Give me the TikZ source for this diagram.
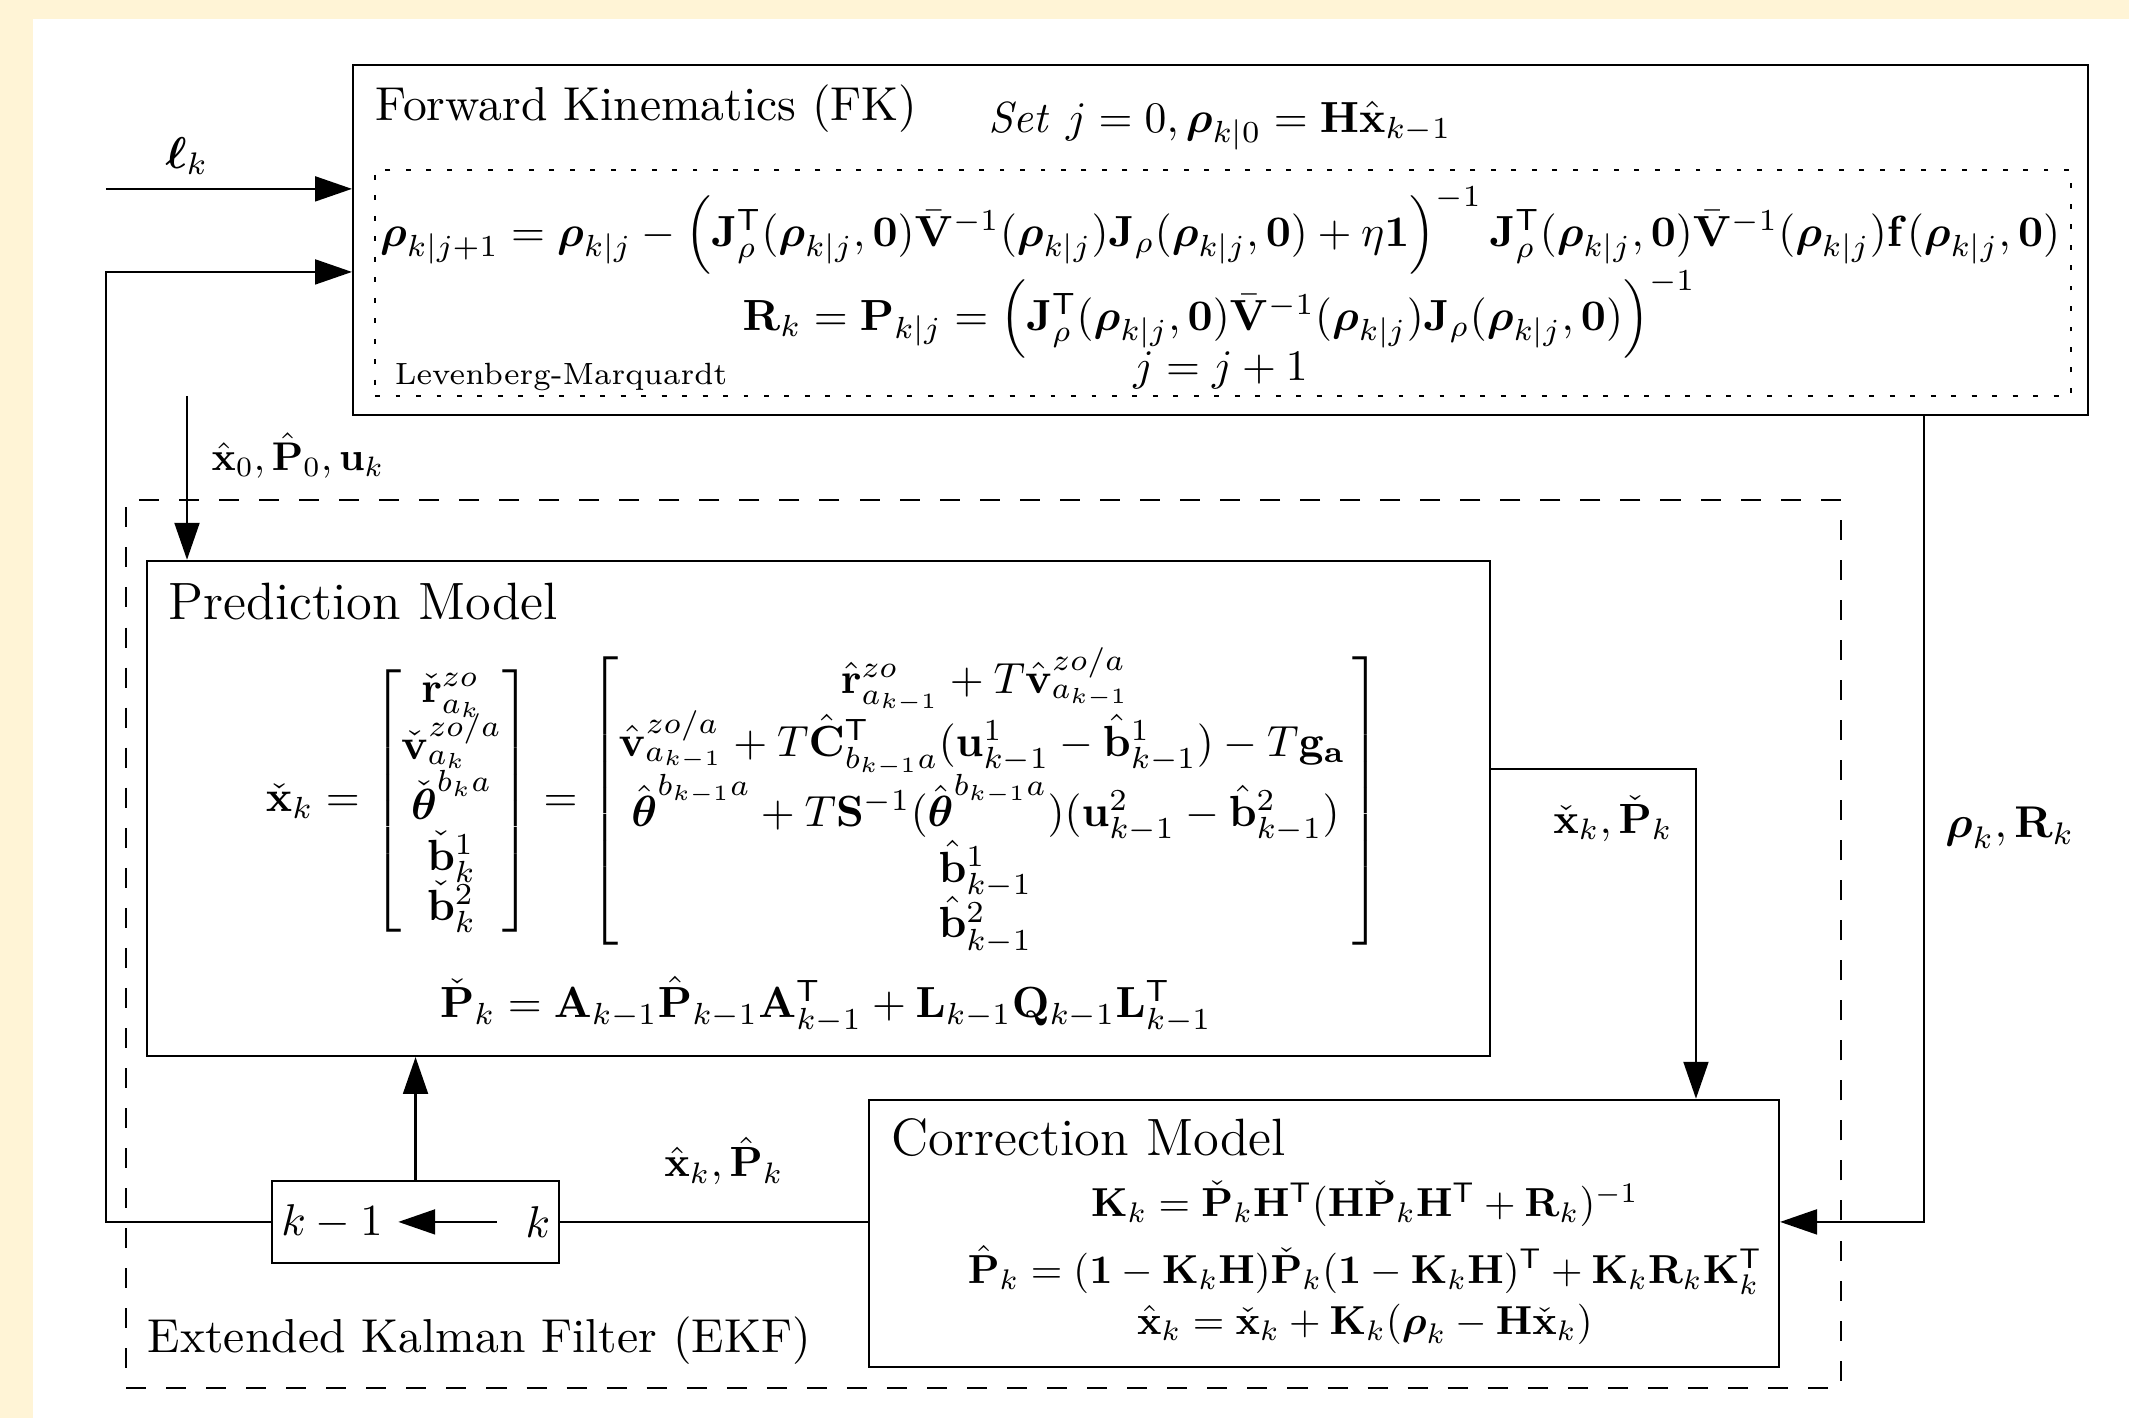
\documentclass[tikz,border=0pt]{standalone}
\usepackage{amsmath,amssymb}
\usepackage{graphicx}
\usetikzlibrary{arrows.meta}
\definecolor{cream}{RGB}{255,244,214}
\newcommand{\eqscale}[2]{\scalebox{#1}{$#2$}}

\begin{document}
\begin{tikzpicture}[
  block/.style={draw, line width=0.5pt, inner sep=0pt},
  arr/.style={-{Triangle[length=8.3pt,width=5.6pt]}, line width=0.5pt},
  ln/.style={line width=0.5pt},
  title/.style={anchor=west, inner sep=0pt, font=\fontsize{10.7}{13}\selectfont},
  bigtitle/.style={title, font=\fontsize{11.8}{14}\selectfont},
  lbl/.style={inner sep=1pt}
]
  % page
  \useasboundingbox (0,0) rectangle (16.815,11.199);
  \fill[white] (0,0) rectangle (16.815,11.199);
  \fill[cream] (0,11.049) rectangle (16.815,11.199);
  \fill[cream] (0,0) rectangle (0.261,11.199);

  % boxes
  \node[block, minimum width=13.703cm, minimum height=2.764cm] (fk) at (9.640,9.304) {};
  \node[block, dash pattern=on 1.1pt off 3.5pt, minimum width=13.395cm, minimum height=1.785cm] (lm) at (9.660,8.965) {};
  \node[block, dash pattern=on 4.5pt off 4.5pt, minimum width=13.545cm, minimum height=7.013cm] (ekf) at (7.768,3.744) {};
  \node[block, minimum width=10.607cm, minimum height=3.910cm] (pred) at (6.465,4.814) {};
  \node[block, minimum width=7.187cm, minimum height=2.109cm] (corr) at (10.457,1.458) {};
  \node[block, minimum width=2.267cm, minimum height=0.648cm] (delay) at (3.282,1.548) {};

  % forward kinematics
  \node[title] (fktitle) at (2.962,10.338) {Forward Kinematics (FK)};
  \node (fkset) at (9.636,10.204) {\eqscale{0.98}{\mathit{Set}\ j = 0, \boldsymbol{\rho}_{k|0} = \mathbf{H}\hat{\mathbf{x}}_{k-1}}};
  \node (lmstep) at (9.637,9.375) {\eqscale{0.98}{\boldsymbol{\rho}_{k|j+1} = \boldsymbol{\rho}_{k|j} - \left(\mathbf{J}_\rho^\mathsf{T}(\boldsymbol{\rho}_{k|j},\mathbf{0})\bar{\mathbf{V}}^{-1}(\boldsymbol{\rho}_{k|j})\mathbf{J}_\rho(\boldsymbol{\rho}_{k|j},\mathbf{0}) + \eta\mathbf{1}\right)^{-1}\mathbf{J}_\rho^\mathsf{T}(\boldsymbol{\rho}_{k|j},\mathbf{0})\bar{\mathbf{V}}^{-1}(\boldsymbol{\rho}_{k|j})\mathbf{f}(\boldsymbol{\rho}_{k|j},\mathbf{0})}};
  \node (lmcov) at (9.630,8.711) {\eqscale{0.98}{\mathbf{R}_k = \mathbf{P}_{k|j} = \left(\mathbf{J}_\rho^\mathsf{T}(\boldsymbol{\rho}_{k|j},\mathbf{0})\bar{\mathbf{V}}^{-1}(\boldsymbol{\rho}_{k|j})\mathbf{J}_\rho(\boldsymbol{\rho}_{k|j},\mathbf{0})\right)^{-1}}};
  \node (lmiter) at (9.640,8.277) {\eqscale{0.98}{j = j + 1}};
  \node[title, font=\fontsize{6.9}{8.5}\selectfont] (lmname) at (3.112,8.225) {Levenberg-Marquardt};

  % prediction
  \node[bigtitle] (predtitle) at (1.327,6.445) {Prediction Model};
  \node (predx) at (6.506,4.873) {\eqscale{0.98}{\check{\mathbf{x}}_k =
    \begin{bmatrix}
      \check{\mathbf{r}}^{zo}_{a_k} \\[-1pt]
      \check{\mathbf{v}}^{zo/a}_{a_k} \\[-1pt]
      \check{\boldsymbol{\theta}}^{b_k a} \\[-1pt]
      \check{\mathbf{b}}^1_k \\[-1pt]
      \check{\mathbf{b}}^2_k
    \end{bmatrix} =
    \begin{bmatrix}
      \hat{\mathbf{r}}^{zo}_{a_{k-1}} + T\hat{\mathbf{v}}^{zo/a}_{a_{k-1}} \\[-0.5pt]
      \hat{\mathbf{v}}^{zo/a}_{a_{k-1}} + T\hat{\mathbf{C}}^\mathsf{T}_{b_{k-1}a}(\mathbf{u}^1_{k-1} - \hat{\mathbf{b}}^1_{k-1}) - T\mathbf{g}_\mathbf{a}\, \\[-0.5pt]
      \hat{\boldsymbol{\theta}}^{b_{k-1}a} + T\mathbf{S}^{-1}(\hat{\boldsymbol{\theta}}^{b_{k-1}a})(\mathbf{u}^2_{k-1} - \hat{\mathbf{b}}^2_{k-1}) \\[-0.5pt]
      \hat{\mathbf{b}}^1_{k-1} \\[-0.5pt]
      \hat{\mathbf{b}}^2_{k-1}
    \end{bmatrix}}};
  \node (predp) at (6.524,3.262) {\eqscale{0.98}{\check{\mathbf{P}}_k = \mathbf{A}_{k-1}\hat{\mathbf{P}}_{k-1}\mathbf{A}^\mathsf{T}_{k-1} + \mathbf{L}_{k-1}\mathbf{Q}_{k-1}\mathbf{L}^\mathsf{T}_{k-1}}};

  % correction
  \node[bigtitle] (corrtitle) at (7.037,2.211) {Correction Model};
  \node (corrk) at (10.78,1.690) {\eqscale{0.91}{\mathbf{K}_k = \check{\mathbf{P}}_k\mathbf{H}^\mathsf{T}(\mathbf{H}\check{\mathbf{P}}_k\mathbf{H}^\mathsf{T} + \mathbf{R}_k)^{-1}}};
  \node (corrp) at (10.78,1.169) {\eqscale{0.91}{\hat{\mathbf{P}}_k = (\mathbf{1} - \mathbf{K}_k\mathbf{H})\check{\mathbf{P}}_k(\mathbf{1} - \mathbf{K}_k\mathbf{H})^\mathsf{T} + \mathbf{K}_k\mathbf{R}_k\mathbf{K}_k^\mathsf{T}}};
  \node (corrx) at (10.78,0.742) {\eqscale{0.91}{\hat{\mathbf{x}}_k = \check{\mathbf{x}}_k + \mathbf{K}_k(\boldsymbol{\rho}_k - \mathbf{H}\check{\mathbf{x}}_k)}};

  % delay
  \node (km1) at (2.622,1.548) {$k-1$};
  \node (kk) at (4.249,1.548) {$k$};
  \draw[arr, shorten <=3pt] (kk.west) -- (km1.east);

  \node[title] (ekftitle) at (1.161,0.608) {Extended Kalman Filter (EKF)};

  % signals
  \coordinate (lkin) at (0.837,9.707);
  \coordinate (fbk) at (0.837,9.051);
  \coordinate (x0in) at (1.477,8.072);
  \coordinate (xcorner) at (13.395,5.126);
  \coordinate (rhocorner) at (15.196,1.548);

  \draw[arr] (lkin) -- (lkin -| fk.west);
  \node[lbl] (lk) at (1.477,9.967) {$\boldsymbol{\ell}_k$};
  \draw[arr] (x0in) -- (x0in |- pred.north);
  \node[lbl, anchor=west] (x0) at (1.63,7.60) {\eqscale{0.9}{\hat{\mathbf{x}}_0, \hat{\mathbf{P}}_0, \mathbf{u}_k}};
  \draw[arr] (pred.east |- xcorner) -- (xcorner) -- (xcorner |- corr.north);
  \node[lbl] (xprior) at (12.739,4.731) {\eqscale{0.95}{\check{\mathbf{x}}_k, \check{\mathbf{P}}_k}};
  \draw[arr] (rhocorner |- fk.south) -- (rhocorner) -- (corr.east |- rhocorner);
  \node[lbl] (rho) at (15.875,4.660) {$\boldsymbol{\rho}_k, \mathbf{R}_k$};
  \draw[ln] (corr.west |- delay) -- (delay.east);
  \node[lbl] (xpost) at (5.718,2.030) {\eqscale{0.95}{\hat{\mathbf{x}}_k, \hat{\mathbf{P}}_k}};
  \draw[arr] (delay.north) -- (delay.north |- pred.south);
  \draw[arr] (delay.west) -- (delay.west -| fbk) -- (fbk) -- (fbk -| fk.west);
\end{tikzpicture}
\end{document}
